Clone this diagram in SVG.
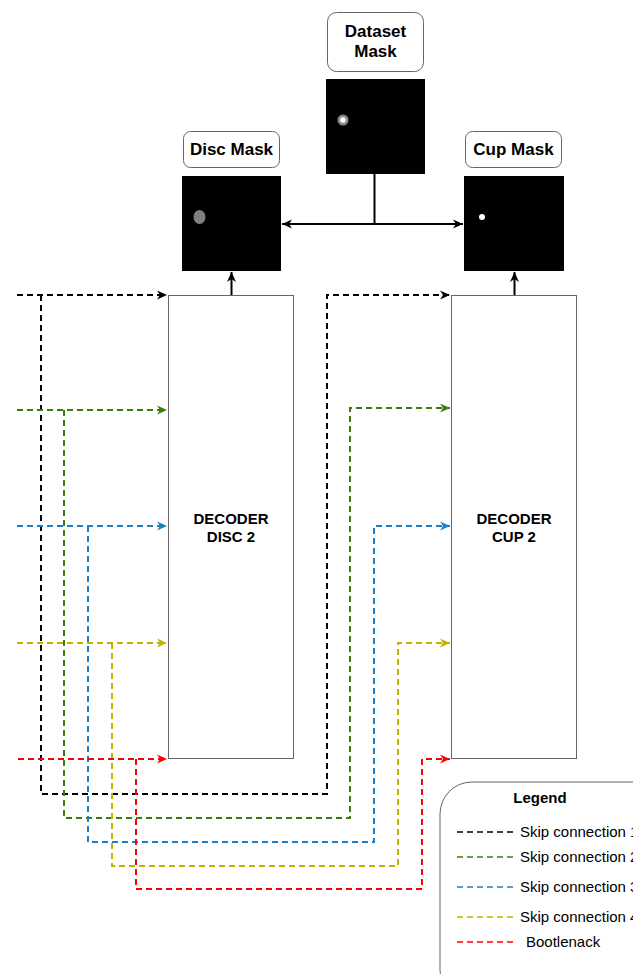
<svg xmlns="http://www.w3.org/2000/svg" width="633" height="974" viewBox="0 0 633 974">
<style>
.lbl{fill:#fff;stroke:#666;stroke-width:1}
.t{font-family:"Liberation Sans",Arial,sans-serif;fill:#000}
.b{font-weight:bold}
.dec{fill:#fff;stroke:#666;stroke-width:1}
.sk{fill:none;stroke-width:2;stroke-dasharray:6 4}
.lg{fill:none;stroke-width:1.5;stroke-dasharray:6 4}
.k{stroke:#000}.g{stroke:#3a7d0c}.bl{stroke:#1a7fc4}.y{stroke:#c2b200}.r{stroke:#ff0000}
.sol{fill:none;stroke:#000;stroke-width:2}
</style>
<defs>
<marker id="ak" markerUnits="userSpaceOnUse" markerWidth="12" markerHeight="10" refX="10" refY="5" orient="auto"><path d="M0,0.5 L10,5 L0,9.5 L3,5 z" fill="#000"/></marker>
<marker id="ag" markerUnits="userSpaceOnUse" markerWidth="12" markerHeight="10" refX="10" refY="5" orient="auto"><path d="M0,0.5 L10,5 L0,9.5 L3,5 z" fill="#3a7d0c"/></marker>
<marker id="ab" markerUnits="userSpaceOnUse" markerWidth="12" markerHeight="10" refX="10" refY="5" orient="auto"><path d="M0,0.5 L10,5 L0,9.5 L3,5 z" fill="#1a7fc4"/></marker>
<marker id="ay" markerUnits="userSpaceOnUse" markerWidth="12" markerHeight="10" refX="10" refY="5" orient="auto"><path d="M0,0.5 L10,5 L0,9.5 L3,5 z" fill="#c2b200"/></marker>
<marker id="ar" markerUnits="userSpaceOnUse" markerWidth="12" markerHeight="10" refX="10" refY="5" orient="auto"><path d="M0,0.5 L10,5 L0,9.5 L3,5 z" fill="#ff0000"/></marker>
<marker id="as" markerUnits="userSpaceOnUse" markerWidth="12" markerHeight="10" refX="10" refY="5" orient="auto-start-reverse"><path d="M0,0.5 L10,5 L0,9.5 L3,5 z" fill="#000"/></marker>
</defs>

<g id="dataset-label"><rect class="lbl" x="327.5" y="12.5" width="96" height="59" rx="9"/>
<text class="t b" x="375.5" y="37" font-size="17" text-anchor="middle">Dataset</text>
<text class="t b" x="375.5" y="57" font-size="17" text-anchor="middle">Mask</text></g>
<g id="dataset-image"><rect x="326" y="79" width="99" height="95" fill="#000"/>
<circle cx="343" cy="120" r="5.5" fill="#8a8a8a"/><circle cx="343" cy="120" r="2.8" fill="#fff"/></g>

<g id="disc-label"><rect class="lbl" x="183.5" y="131.5" width="96" height="36" rx="7"/>
<text class="t b" x="231.5" y="155" font-size="17" text-anchor="middle">Disc Mask</text></g>
<g id="disc-image"><rect x="182" y="176" width="99" height="95" fill="#000"/>
<ellipse cx="199.5" cy="217" rx="6" ry="7" fill="#808080"/></g>

<g id="cup-label"><rect class="lbl" x="465.5" y="131.5" width="96" height="36" rx="7"/>
<text class="t b" x="513.5" y="155" font-size="17" text-anchor="middle">Cup Mask</text></g>
<g id="cup-image"><rect x="464" y="176" width="100" height="95" fill="#000"/>
<circle cx="482" cy="217" r="3" fill="#fff"/></g>

<g id="decoder-disc"><rect class="dec" x="168.5" y="295.5" width="125" height="463"/>
<text class="t b" x="231" y="524" font-size="15" text-anchor="middle">DECODER</text>
<text class="t b" x="231" y="542" font-size="15" text-anchor="middle">DISC 2</text></g>
<g id="decoder-cup"><rect class="dec" x="451.5" y="295.5" width="125" height="463"/>
<text class="t b" x="514" y="524" font-size="15" text-anchor="middle">DECODER</text>
<text class="t b" x="514" y="542" font-size="15" text-anchor="middle">CUP 2</text></g>

<g id="connectors">
<path class="sol" d="M374.5,174 V224"/>
<path class="sol" d="M282,224 H463" marker-start="url(#as)" marker-end="url(#as)"/>
<path class="sol" d="M231.5,295 V272" marker-end="url(#ak)"/>
<path class="sol" d="M514.5,295 V272" marker-end="url(#ak)"/>

<path class="sk k" d="M17,295 H167" marker-end="url(#ak)"/>
<path class="sk k" d="M41,295 V794 H327 V295 H450" marker-end="url(#ak)"/>
<path class="sk g" d="M17,410 H167" marker-end="url(#ag)"/>
<path class="sk g" d="M64,410 V818 H350 V408 H450" marker-end="url(#ag)"/>
<path class="sk bl" d="M17,526 H167" marker-end="url(#ab)"/>
<path class="sk bl" d="M88,526 V842 H374 V526 H450" marker-end="url(#ab)"/>
<path class="sk y" d="M17,643 H167" marker-end="url(#ay)"/>
<path class="sk y" d="M112,643 V866 H398 V643 H450" marker-end="url(#ay)"/>
<path class="sk r" d="M18,759 H167" marker-end="url(#ar)"/>
<path class="sk r" d="M136,759 V889 H422 V759 H450" marker-end="url(#ar)"/>
</g>

<g id="legend">
<rect x="440" y="782" width="230" height="220" rx="32" fill="#fff" stroke="#666" stroke-width="1"/>
<text class="t b" x="540" y="803" font-size="15" text-anchor="middle">Legend</text>
<path class="lg k" d="M457,832 H517"/>
<path class="lg g" d="M457,857 H517"/>
<path class="lg bl" d="M457,887 H517"/>
<path class="lg y" d="M457,917 H517"/>
<path class="lg r" d="M457,942 H517"/>
<text class="t" x="520" y="837" font-size="15">Skip connection 1</text>
<text class="t" x="520" y="862" font-size="15">Skip connection 2</text>
<text class="t" x="520" y="892" font-size="15">Skip connection 3</text>
<text class="t" x="520" y="922" font-size="15">Skip connection 4</text>
<text class="t" x="526" y="947" font-size="15">Bootlenack</text>
</g>
</svg>
